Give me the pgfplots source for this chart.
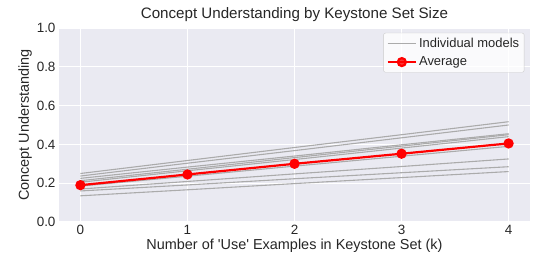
\documentclass[border=0pt]{standalone}
\usepackage{pgfplots}
\pgfplotsset{compat=1.18}
\usepackage{fontspec}
\setmainfont{Liberation Sans}
\definecolor{bgc}{HTML}{EAEAF2}
\definecolor{txt}{HTML}{262626}
\definecolor{indiv}{HTML}{ABABAB}
\begin{document}
\begin{tikzpicture}
\begin{axis}[
  scale only axis, width=471bp, height=194bp,
  xmin=-0.2, xmax=4.2, ymin=0, ymax=1,
  xtick={0,1,2,3,4}, ytick={0,0.2,0.4,0.6,0.8,1.0},
  yticklabel style={/pgf/number format/fixed,/pgf/number format/fixed zerofill,/pgf/number format/precision=1},
  /pgf/number format/assume math mode=true,
  axis background/.style={fill=bgc},
  axis line style={draw=none},
  major tick length=0pt,
  grid=major, major grid style={white, line width=1.2pt},
  tick label style={font=\fontsize{13.5}{15}\selectfont, text=txt},
  label style={font=\fontsize{14.5}{16}\selectfont, text=txt},
  title style={font=\fontsize{15.2}{17}\selectfont, text=txt, yshift=-3bp},
  title={Concept Understanding by Keystone Set Size},
  xlabel={Number of \textquotesingle Use\textquotesingle\ Examples in Keystone Set (k)},
  ylabel={Concept Understanding},
  xlabel style={yshift=3bp},
  ylabel style={yshift=-2bp},
  legend style={at={(0.988,0.975)}, anchor=north east, fill=white, fill opacity=0.8, text opacity=1, draw=lightgray!80, rounded corners=2pt, font=\fontsize{13}{15}\selectfont, text=txt, inner sep=3pt, row sep=4pt},
  legend cell align=left,
  legend image code/.code={\draw[mark repeat=2,mark phase=2,#1] plot coordinates {(0cm,0cm) (0.5cm,0cm) (1.0cm,0cm)};},
]
\addplot[indiv, line width=1.1pt, forget plot] coordinates {(0,0.250)(1,0.317)(2,0.384)(3,0.450)(4,0.517)};
\addplot[indiv, line width=1.1pt, forget plot] coordinates {(0,0.237)(1,0.303)(2,0.368)(3,0.434)(4,0.500)};
\addplot[indiv, line width=1.1pt, forget plot] coordinates {(0,0.225)(1,0.283)(2,0.340)(3,0.398)(4,0.455)};
\addplot[indiv, line width=1.1pt, forget plot] coordinates {(0,0.213)(1,0.272)(2,0.332)(3,0.391)(4,0.450)};
\addplot[indiv, line width=1.1pt, forget plot] coordinates {(0,0.205)(1,0.264)(2,0.322)(3,0.381)(4,0.440)};
\addplot[indiv, line width=1.1pt, forget plot] coordinates {(0,0.185)(1,0.236)(2,0.288)(3,0.339)(4,0.390)};
\addplot[indiv, line width=1.1pt, forget plot] coordinates {(0,0.170)(1,0.209)(2,0.248)(3,0.286)(4,0.325)};
\addplot[indiv, line width=1.1pt, forget plot] coordinates {(0,0.160)(1,0.191)(2,0.223)(3,0.254)(4,0.285)};
\addplot[indiv, line width=1.1pt] coordinates {(0,0.135)(1,0.166)(2,0.198)(3,0.229)(4,0.260)};
\addlegendentry{Individual models}
\addplot[red, line width=2.2pt, mark=*, mark size=4pt, mark options={fill=red, draw=red}] coordinates {(0,0.190)(1,0.245)(2,0.300)(3,0.352)(4,0.405)};
\addlegendentry{Average}
\end{axis}
\path (current axis.south west) ++(-59bp,-52bp) (current axis.north east) ++(10bp,28bp);
\end{tikzpicture}
\end{document}
